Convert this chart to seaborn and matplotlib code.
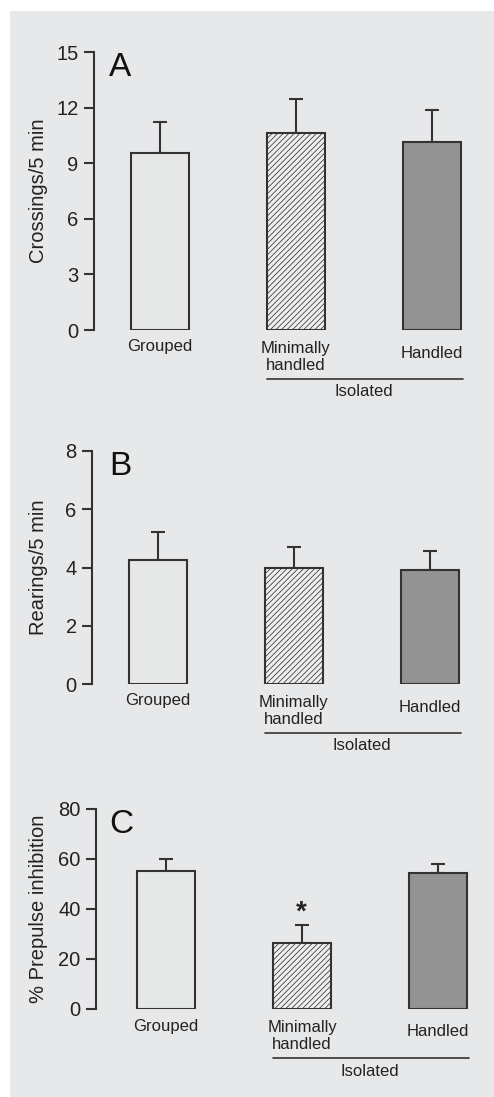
"""
Three-panel bar chart: crossings, rearings and prepulse inhibition
for grouped vs. isolated (minimally handled / handled) animals.
"""

import matplotlib
matplotlib.use('Agg')
import matplotlib.pyplot as plt
import matplotlib.patches as mpatches
import numpy as np
import pandas as pd
import seaborn as sns


GROUPS = ['Grouped', 'Minimally\nhandled', 'Handled']

CROSSINGS_MEAN = [9.55, 10.65, 10.15]
CROSSINGS_SEM = [1.65, 1.82, 1.70]

REARINGS_MEAN = [4.27, 3.99, 3.93]
REARINGS_SEM = [0.94, 0.71, 0.62]

PPI_MEAN = [55.3, 26.3, 54.5]
PPI_SEM = [4.7, 7.2, 3.6]

PANELS = [
    # letter, ylabel, means, sems, yticks
    ('A', 'Crossings/5 min', CROSSINGS_MEAN, CROSSINGS_SEM, [0, 3, 6, 9, 12, 15]),
    ('B', 'Rearings/5 min', REARINGS_MEAN, REARINGS_SEM, [0, 2, 4, 6, 8]),
    ('C', '% Prepulse inhibition', PPI_MEAN, PPI_SEM, [0, 20, 40, 60, 80]),
]
SIGNIFICANT = {'C': [1]}  # bars marked with *

BG = '#e7e8ea'
EDGE = '#333333'
FACES = ['#e6e7e7', '#eeeeee', '#939393']

W, H = 494, 1097
DPI = 100

# axes geometry in pixels (top-down): left, y of top tick, y of zero, x of first bar centre
AX_PX = [
    (94, 52, 330, 160),
    (92, 451, 684, 158),
    (96, 809, 1009, 166),
]
BAR_STEP = 136
BAR_W = 0.42


def main():
    sns.set_style('white')
    plt.rcParams['font.family'] = ['Liberation Sans', 'DejaVu Sans']
    plt.rcParams['hatch.color'] = '#8a8a8a'
    plt.rcParams['hatch.linewidth'] = 0.55

    fig = plt.figure(figsize=(W / DPI, H / DPI), dpi=DPI, facecolor='white')
    fig.patches.append(mpatches.Rectangle(
        (10 / W, 0), (W - 10) / W, (H - 11) / H,
        transform=fig.transFigure, facecolor=BG, edgecolor='none', zorder=-10,
    ))

    for (letter, ylabel, means, sems, yticks), (left, top, zero, x0) in zip(PANELS, AX_PX):
        right = 480
        ax = fig.add_axes([left / W, 1 - zero / H, (right - left) / W, (zero - top) / H])
        ax.set_facecolor('none')

        df = pd.DataFrame({'group': GROUPS, 'value': means})
        sns.barplot(
            data=df, x='group', y='value', hue='group', order=GROUPS,
            palette=FACES, width=BAR_W, edgecolor=EDGE, linewidth=1.5,
            legend=False, ax=ax, zorder=3,
        )
        ax.patches[1].set_hatch('//////')

        ax.errorbar(
            np.arange(len(GROUPS)), means,
            yerr=[np.zeros(len(sems)), sems],
            fmt='none', ecolor=EDGE, elinewidth=1.5, capsize=5, capthick=1.5,
            zorder=2,
        )

        # x limits so that bars sit where they do in the figure
        xl = -(x0 - left) / BAR_STEP
        xr = (right - x0) / BAR_STEP
        ax.set_xlim(xl, xr)
        ax.set_ylim(yticks[0], yticks[-1])
        ax.set_yticks(yticks)
        ax.tick_params(axis='y', labelsize=14.5, length=7, width=1.5,
                       color=EDGE, labelcolor='#222222', pad=4, left=True)
        ax.set_xticks([])
        ax.set_xlabel('')
        for side in ['top', 'right', 'bottom']:
            ax.spines[side].set_visible(False)
        ax.spines['left'].set_color(EDGE)
        ax.spines['left'].set_linewidth(1.5)

        ax.set_ylabel(ylabel, fontsize=14.5, color='#222222')
        ax.yaxis.set_label_coords((48 - left) / (right - left), 0.5)

        ax.text((109 - left) / (right - left), 1.0, letter, transform=ax.transAxes,
                fontsize=24, color='#111111', ha='left', va='top')

        # category labels under the bars
        offsets = [-17, -27, -23]
        for i, (name, off) in enumerate(zip(GROUPS, offsets)):
            ax.annotate(name, xy=(i, 0), xytext=(0, off), textcoords='offset pixels',
                        ha='center', va='center', fontsize=12, color='#222222',
                        linespacing=1.15, annotation_clip=False)

        # "Isolated" bracket
        line_y = ax.transData.inverted().transform(
            ax.transData.transform((0, 0)) + np.array([0, -49]))[1]
        ax.plot([1 - BAR_W / 2, 2 + BAR_W / 2 + 0.02], [line_y, line_y],
                color=EDGE, lw=1.2, clip_on=False)
        ax.annotate('Isolated', xy=(1.5, 0), xytext=(0, -62), textcoords='offset pixels',
                    ha='center', va='center', fontsize=12, color='#222222',
                    annotation_clip=False)

        for i in SIGNIFICANT.get(letter, []):
            ax.annotate('*', xy=(i, means[i] + sems[i]), xytext=(-1, 0),
                        textcoords='offset pixels', ha='center', va='bottom',
                        fontsize=20, fontweight='bold', color='#222222',
                        annotation_clip=False)

    fig.savefig('out.png', dpi=DPI, facecolor='white')
    plt.close(fig)


if __name__ == '__main__':
    main()
